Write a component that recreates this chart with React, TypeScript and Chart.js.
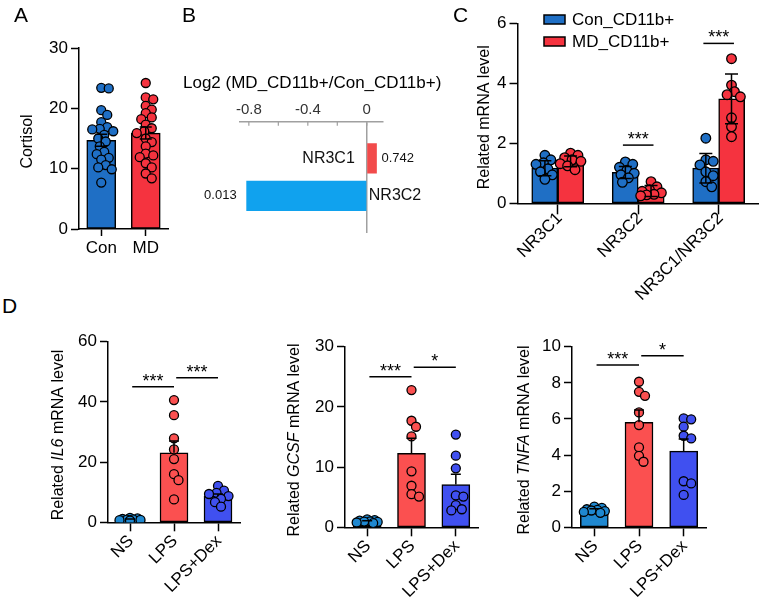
import React, { useEffect, useRef } from 'react';
import { Chart, registerables } from 'chart.js';

Chart.register(...registerables);

const FONT = "'Liberation Sans', Arial, Helvetica, sans-serif";
Chart.defaults.font.family = FONT;
Chart.defaults.color = '#000';

// ---------- Panel A: serum cortisol ----------
const cortisolGroups = ['Con', 'MD'];
const cortisolMean = [14.7, 15.9];
const cortisolSem = [1.0, 1.0];
const cortisolCon = [23.4, 23.3, 19.7, 18.9, 17.7, 16.9, 16.6, 16.5, 16.2, 15.6, 15.0, 14.5, 13.7, 12.8, 12.4, 11.8, 11.5, 10.6, 10.2, 9.9, 7.7];
const cortisolMd = [24.2, 21.8, 21.5, 20.4, 19.8, 19.2, 18.5, 18.2, 17.3, 16.7, 16.2, 15.9, 15.0, 14.4, 13.7, 12.5, 12.2, 11.9, 10.9, 10.2, 9.2, 8.4];

// ---------- Panel B: log2 fold change ----------
const log2Title = 'Log2 (MD_CD11b+/Con_CD11b+)';
const log2Genes = ['NR3C1', 'NR3C2'];
const log2Ratio = [0.066, -0.815];
const log2PValues = ['0.742', '0.013'];
const log2AxisTicks = [-0.8, -0.6, -0.4, -0.2, 0];
const log2AxisLabels = ['-0.8', '', '-0.4', '', '0'];

// ---------- Panel C: CD11b+ receptor mRNA ----------
const mrnaTargets = ['NR3C1', 'NR3C2', 'NR3C1/NR3C2'];
const conCd11bMean = [1.17, 1.03, 1.17];
const conCd11bSd = [0.25, 0.2, 0.49];
const conCd11bPoints = [
  [1.6, 1.45, 1.35, 1.3, 1.15, 1.05, 0.95, 0.8],
  [1.38, 1.3, 1.2, 1.1, 1.0, 0.95, 0.85, 0.7],
  [2.17, 1.45, 1.4, 1.28, 1.05, 0.92, 0.72, 0.55],
];
const mdCd11bMean = [1.4, 0.41, 3.48];
const mdCd11bSd = [0.18, 0.18, 0.83];
const mdCd11bPoints = [
  [1.67, 1.6, 1.52, 1.45, 1.4, 1.32, 1.25, 1.12],
  [0.72, 0.55, 0.45, 0.4, 0.35, 0.3, 0.28, 0.25],
  [4.82, 3.94, 3.72, 3.62, 3.55, 2.85, 2.55, 2.22],
];
const mrnaSigTargets = [1, 2];
const mrnaSigLevels = [1.94, 5.33];
const mrnaSigMarks = ['***', '***'];

// ---------- Panel D: cytokine mRNA after LPS / Dex ----------
const treatments = ['NS', 'LPS', 'LPS+Dex'];

const il6Mean = [1.0, 23.1, 8.6];
const il6Sem = [0.12, 3.9, 0.8];
const il6Points = [
  [1.5, 1.3, 1.1, 1.0, 0.9, 0.8, 0.7, 0.6],
  [40.6, 35.6, 27.9, 24.2, 21.0, 16.0, 14.0, 7.6],
  [12.1, 10.5, 9.8, 9.4, 8.7, 7.8, 6.7, 5.2],
];
const il6SigLevels = [45, 48];
const il6SigMarks = ['***', '***'];

const gcsfMean = [1.0, 12.3, 7.1];
const gcsfSem = [0.08, 2.5, 1.7];
const gcsfPoints = [
  [1.3, 1.2, 1.1, 1.0, 0.95, 0.9, 0.8, 0.7],
  [22.8, 17.7, 16.7, 15.1, 9.3, 6.9, 5.5, 5.1],
  [15.4, 11.9, 9.8, 5.3, 5.1, 3.7, 3.0, 2.8],
];
const gcsfSigLevels = [25.0, 26.6];
const gcsfSigMarks = ['***', '*'];

const tnfaMean = [0.98, 5.81, 4.22];
const tnfaSem = [0.05, 0.68, 0.67];
const tnfaPoints = [
  [1.15, 1.08, 1.0, 0.97, 0.93, 0.9, 0.85, 0.8],
  [8.06, 7.5, 7.28, 6.36, 5.66, 4.43, 3.96, 3.63],
  [6.03, 5.98, 5.57, 5.07, 4.92, 2.55, 2.43, 1.79],
];
const tnfaSigLevels = [8.98, 9.5];
const tnfaSigMarks = ['***', '*'];

const treatmentPairs = [[0, 1], [1, 2]];

// ---------- colours ----------
const CON_BLUE = '#1f6fc5';
const MD_RED = '#f5333f';
const FC_RED = '#f24b4b';
const FC_BLUE = '#10a2ee';
const NS_BLUE = '#1f88d0';
const LPS_RED = '#fb5050';
const DEX_BLUE = '#4050f0';

// Spread dots of one group sideways so they overlap only partly (beeswarm).
function swarm(values: number[], pxPerY: number, r: number, maxHalf: number): number[] {
  const order = values.map((_, i) => i).sort((a, b) => values[b] - values[a]);
  const placed: { x: number; y: number }[] = [];
  const out = new Array(values.length).fill(0);
  const minD = r * 1.5;
  for (const i of order) {
    const y = values[i] * pxPerY;
    let best = 0;
    let bestScore = -1;
    for (let k = 0; k <= 60; k++) {
      const dx = (k % 2 === 1 ? 1 : -1) * Math.ceil(k / 2) * 1.5;
      if (Math.abs(dx) > maxHalf) continue;
      let dmin = Infinity;
      for (const p of placed) dmin = Math.min(dmin, Math.hypot(p.x - dx, p.y - y));
      if (dmin >= minD) { best = dx; break; }
      if (dmin > bestScore) { bestScore = dmin; best = dx; }
    }
    placed.push({ x: best, y });
    out[i] = best;
  }
  return out;
}

function drawRotatedTitle(ctx: CanvasRenderingContext2D, segs: any[], x: number, y: number, size: number) {
  ctx.save();
  ctx.translate(x, y);
  ctx.rotate(-Math.PI / 2);
  ctx.fillStyle = '#000';
  ctx.textBaseline = 'middle';
  ctx.textAlign = 'left';
  const widths = segs.map((s) => {
    ctx.font = `${s.italic ? 'italic ' : ''}${size}px ${FONT}`;
    return ctx.measureText(s.text).width;
  });
  let cx = -widths.reduce((a, b) => a + b, 0) / 2;
  segs.forEach((s, i) => {
    ctx.font = `${s.italic ? 'italic ' : ''}${size}px ${FONT}`;
    ctx.fillText(s.text, cx, 0);
    cx += widths[i];
  });
  ctx.restore();
}

const zeroPad = (s: any) => {
  s.paddingLeft = 0;
  s.paddingRight = 0;
  s.paddingTop = 0;
  s.paddingBottom = 0;
};

function barDotConfig(p: any) {
  const { box, plot, labels, series, yMin, yMax, yStep, rotation, xTickLength, xLabelPad, xLabelShift, barThickness, dotRadius, capHalf, sig, title, legend } = p;
  const n = labels.length;
  const S = series.length;
  const pxX = (plot.r - plot.l) / n;
  const pxY = (plot.b - plot.t) / (yMax - yMin);
  const groupShift = (si: number) => ((si - (S - 1) / 2) * barThickness) / pxX;

  const datasets: any[] = [];
  series.forEach((s: any) => {
    datasets.push({
      type: 'bar',
      label: s.label,
      data: s.means.map((m: number, i: number) => ({ x: i, y: m })),
      backgroundColor: s.colors,
      borderColor: '#000',
      borderWidth: 1.5,
      borderSkipped: false,
      barThickness,
      order: 3,
    });
  });
  series.forEach((s: any, si: number) => {
    s.points.forEach((vals: number[], i: number) => {
      const dx = swarm(vals, pxY, dotRadius, barThickness / 2 - dotRadius * 0.5);
      datasets.push({
        type: 'scatter',
        label: `${s.label} ${labels[i]}`,
        data: vals.map((v, k) => ({ x: i + groupShift(si) + dx[k] / pxX, y: v })),
        backgroundColor: s.colors[i],
        borderColor: '#000',
        borderWidth: 1.3,
        pointRadius: dotRadius,
        order: 2,
      });
    });
  });

  const overlay = {
    id: 'barDotOverlay',
    afterDatasetsDraw(chart: any) {
      const { ctx } = chart;
      const x = chart.scales.x;
      const y = chart.scales.y;
      ctx.save();
      ctx.strokeStyle = '#000';
      ctx.lineWidth = 1.5;
      series.forEach((s: any, si: number) => {
        s.means.forEach((m: number, i: number) => {
          const e = s.errs[i];
          const xc = x.getPixelForValue(i + groupShift(si));
          const yTop = y.getPixelForValue(m + e);
          const yBot = s.errBoth ? y.getPixelForValue(m - e) : y.getPixelForValue(m);
          ctx.beginPath();
          ctx.moveTo(xc, yBot);
          ctx.lineTo(xc, yTop);
          ctx.moveTo(xc - capHalf, yTop);
          ctx.lineTo(xc + capHalf, yTop);
          if (s.errBoth) {
            ctx.moveTo(xc - capHalf, yBot);
            ctx.lineTo(xc + capHalf, yBot);
          }
          ctx.stroke();
        });
      });
      sig.forEach((g: any) => {
        const x1 = x.getPixelForValue(g.from);
        const x2 = x.getPixelForValue(g.to);
        const yy = y.getPixelForValue(g.level);
        ctx.beginPath();
        ctx.moveTo(x1, yy);
        ctx.lineTo(x2, yy);
        ctx.stroke();
        ctx.font = `18px ${FONT}`;
        ctx.fillStyle = '#000';
        ctx.textAlign = 'center';
        ctx.textBaseline = 'alphabetic';
        ctx.fillText(g.mark, (x1 + x2) / 2, yy);
      });
      ctx.restore();
    },
    afterDraw(chart: any) {
      const { ctx, chartArea } = chart;
      drawRotatedTitle(ctx, title.segs, title.x - box.left, (chartArea.top + chartArea.bottom) / 2 + title.dy, 16);
      if (legend) {
        ctx.save();
        series.forEach((s: any, si: number) => {
          const lx = legend.x - box.left;
          const ly = legend.y - box.top + si * legend.gap;
          ctx.fillStyle = s.colors[0];
          ctx.fillRect(lx, ly, 21, 9);
          ctx.strokeStyle = '#000';
          ctx.lineWidth = 1.5;
          ctx.strokeRect(lx, ly, 21, 9);
          ctx.fillStyle = '#000';
          ctx.font = `17px ${FONT}`;
          ctx.textAlign = 'left';
          ctx.textBaseline = 'middle';
          ctx.fillText(s.label, lx + 28, ly + 5);
        });
        ctx.restore();
      }
    },
  };

  return {
    type: 'bar',
    data: { datasets },
    options: {
      responsive: false,
      animation: false,
      events: [],
      layout: { padding: { left: 0, top: plot.t - box.top, right: box.left + box.w - plot.r, bottom: 0 } },
      plugins: { legend: { display: false }, tooltip: { enabled: false }, title: { display: false } },
      scales: {
        x: {
          type: 'linear',
          offset: false,
          min: -0.5,
          max: n - 0.5,
          afterBuildTicks: (s: any) => { s.ticks = labels.map((_: string, i: number) => ({ value: i })); },
          afterFit: (s: any) => { s.height = box.top + box.h - plot.b; zeroPad(s); },
          ticks: {
            autoSkip: false,
            minRotation: rotation,
            maxRotation: rotation,
            padding: xLabelPad,
            labelOffset: xLabelShift,
            color: '#000',
            font: { size: 17 },
            callback: (v: number) => labels[v] ?? '',
          },
          grid: { display: true, offset: false, drawOnChartArea: false, drawTicks: true, tickLength: xTickLength, tickColor: '#000', tickWidth: 1.5 },
          border: { display: true, color: '#000', width: 1.5 },
        },
        y: {
          type: 'linear',
          offset: false,
          min: yMin,
          max: yMax,
          afterFit: (s: any) => { s.width = plot.l - box.left; zeroPad(s); },
          ticks: { stepSize: yStep, padding: 3, color: '#000', font: { size: 17 } },
          grid: { display: true, offset: false, drawOnChartArea: false, drawTicks: true, tickLength: 8, tickColor: '#000', tickWidth: 1.5 },
          border: { display: true, color: '#000', width: 1.5 },
        },
      },
    },
    plugins: [overlay],
  };
}

function log2Config(box: any) {
  const plot = { l: 240, t: 121.7, r: 383, b: 233 };
  const axisH = 27.5;
  const titleAt = { x: 183, y: 83 };

  const labelsPlugin = {
    id: 'log2Labels',
    afterDatasetsDraw(chart: any) {
      const { ctx, chartArea } = chart;
      const x = chart.scales.x;
      const y = chart.scales.y;
      const x0 = x.getPixelForValue(0);
      ctx.save();
      ctx.fillStyle = '#111';
      ctx.textBaseline = 'middle';
      log2Genes.forEach((g, i) => {
        const v = log2Ratio[i];
        const yc = y.getPixelForValue(i);
        const xe = x.getPixelForValue(v);
        ctx.font = `16px ${FONT}`;
        if (v >= 0) {
          ctx.textAlign = 'right';
          ctx.fillText(g, x0 - 12, yc);
          ctx.font = `13px ${FONT}`;
          ctx.textAlign = 'left';
          ctx.fillText(log2PValues[i], xe + 5, yc);
        } else {
          ctx.textAlign = 'left';
          ctx.fillText(g, x0 + 2, yc);
          ctx.font = `13px ${FONT}`;
          ctx.textAlign = 'right';
          ctx.fillText(log2PValues[i], xe - 10, yc);
        }
      });
      ctx.strokeStyle = '#a0a0a0';
      ctx.lineWidth = 1.2;
      x.ticks.forEach((t: any) => {
        const px = x.getPixelForValue(t.value);
        ctx.beginPath();
        ctx.moveTo(px, chartArea.top);
        ctx.lineTo(px, chartArea.top + 4);
        ctx.stroke();
      });
      // chart heading
      ctx.fillStyle = '#000';
      ctx.font = `17px ${FONT}`;
      ctx.textAlign = 'left';
      ctx.textBaseline = 'middle';
      ctx.fillText(log2Title, titleAt.x - box.left, titleAt.y - box.top);
      ctx.restore();
    },
  };

  return {
    type: 'bar',
    data: {
      datasets: [{
        type: 'bar',
        label: log2Title,
        data: log2Genes.map((_, i) => ({ x: log2Ratio[i], y: i })),
        backgroundColor: log2Ratio.map((v) => (v >= 0 ? FC_RED : FC_BLUE)),
        borderWidth: 0,
        barThickness: 29.5,
      }],
    },
    options: {
      indexAxis: 'y',
      responsive: false,
      animation: false,
      events: [],
      layout: {
        padding: {
          left: 0,
          top: plot.t - box.top - axisH,
          right: box.left + box.w - plot.r,
          bottom: box.top + box.h - plot.b,
        },
      },
      plugins: { legend: { display: false }, tooltip: { enabled: false }, title: { display: false } },
      scales: {
        x: {
          type: 'linear',
          position: 'top',
          offset: false,
          min: -0.86,
          max: 0.11,
          afterBuildTicks: (s: any) => { s.ticks = log2AxisTicks.map((v) => ({ value: v })); },
          afterFit: (s: any) => { s.height = axisH; zeroPad(s); },
          ticks: {
            autoSkip: false,
            padding: 3,
            color: '#333',
            font: { size: 15 },
            callback: (v: number) => log2AxisLabels[log2AxisTicks.indexOf(v)] ?? '',
          },
          grid: {
            display: true,
            offset: false,
            drawOnChartArea: true,
            drawTicks: false,
            color: (c: any) => (c.tick && c.tick.value === 0 ? '#a0a0a0' : 'rgba(0,0,0,0)'),
            lineWidth: 1.5,
          },
          border: { display: true, color: '#a0a0a0', width: 1.5 },
        },
        y: {
          type: 'linear',
          offset: false,
          reverse: true,
          min: -0.98,
          max: 1.99,
          afterFit: (s: any) => { s.width = plot.l - box.left; zeroPad(s); },
          ticks: { display: false },
          grid: { display: false, offset: false },
          border: { display: false },
        },
      },
    },
    plugins: [labelsPlugin],
  };
}

const pairSig = (levels: number[], marks: string[]) =>
  treatmentPairs.map(([a, b], k) => ({ from: a + 0.05, to: b, level: levels[k], mark: marks[k] }));

const boxes = {
  a: { left: 0, top: 0, w: 185, h: 270 },
  b: { left: 183, top: 60, w: 270, h: 185 },
  c: { left: 440, top: 0, w: 325, h: 300 },
  il6: { left: 0, top: 330, w: 250, h: 273 },
  gcsf: { left: 250, top: 330, w: 240, h: 273 },
  tnfa: { left: 490, top: 330, w: 275, h: 273 },
};

const treatmentColors = [NS_BLUE, LPS_RED, DEX_BLUE];

const builders: Record<string, () => any> = {
  a: () => barDotConfig({
    box: boxes.a,
    plot: { l: 79, t: 48, r: 168, b: 229 },
    labels: cortisolGroups,
    series: [{ label: 'Cortisol', colors: [CON_BLUE, MD_RED], means: cortisolMean, errs: cortisolSem, errBoth: true, points: [cortisolCon, cortisolMd] }],
    yMin: 0, yMax: 30, yStep: 10,
    rotation: 0, xTickLength: 7, xLabelPad: 2, xLabelShift: 0,
    barThickness: 29, dotRadius: 4.5, capHalf: 6,
    sig: [],
    title: { segs: [{ text: 'Cortisol' }], x: 28, dy: 3 },
  }),
  b: () => log2Config(boxes.b),
  c: () => barDotConfig({
    box: boxes.c,
    plot: { l: 517.5, t: 23.3, r: 762, b: 203.3 },
    labels: mrnaTargets,
    series: [
      { label: 'Con_CD11b+', colors: mrnaTargets.map(() => CON_BLUE), means: conCd11bMean, errs: conCd11bSd, errBoth: true, points: conCd11bPoints },
      { label: 'MD_CD11b+', colors: mrnaTargets.map(() => MD_RED), means: mdCd11bMean, errs: mdCd11bSd, errBoth: true, points: mdCd11bPoints },
    ],
    yMin: 0, yMax: 6, yStep: 2,
    rotation: 45, xTickLength: 11, xLabelPad: -6, xLabelShift: 2,
    barThickness: 26, dotRadius: 4.8, capHalf: 6.5,
    sig: mrnaSigTargets.map((t, k) => ({ from: t - 0.19, to: t + 0.19, level: mrnaSigLevels[k], mark: mrnaSigMarks[k] })),
    title: { segs: [{ text: 'Related mRNA level' }], x: 485, dy: 4 },
    legend: { x: 544, y: 15, gap: 22 },
  }),
  il6: () => barDotConfig({
    box: boxes.il6,
    plot: { l: 108, t: 341.7, r: 240, b: 522.3 },
    labels: treatments,
    series: [{ label: 'IL6', colors: treatmentColors, means: il6Mean, errs: il6Sem, errBoth: false, points: il6Points }],
    yMin: 0, yMax: 60, yStep: 20,
    rotation: 45, xTickLength: 9, xLabelPad: 0, xLabelShift: 1,
    barThickness: 28, dotRadius: 4.5, capHalf: 5,
    sig: pairSig(il6SigLevels, il6SigMarks),
    title: { segs: [{ text: 'Related ' }, { text: 'IL6', italic: true }, { text: ' mRNA level' }], x: 58.3, dy: 3 },
  }),
  gcsf: () => barDotConfig({
    box: boxes.gcsf,
    plot: { l: 345, t: 346.7, r: 478, b: 527.3 },
    labels: treatments,
    series: [{ label: 'GCSF', colors: treatmentColors, means: gcsfMean, errs: gcsfSem, errBoth: false, points: gcsfPoints }],
    yMin: 0, yMax: 30, yStep: 10,
    rotation: 45, xTickLength: 9, xLabelPad: 0, xLabelShift: 1,
    barThickness: 28, dotRadius: 4.5, capHalf: 5,
    sig: pairSig(gcsfSigLevels, gcsfSigMarks),
    title: { segs: [{ text: 'Related ' }, { text: 'GCSF', italic: true }, { text: ' mRNA level' }], x: 294.3, dy: 3 },
  }),
  tnfa: () => barDotConfig({
    box: boxes.tnfa,
    plot: { l: 572, t: 346.7, r: 706, b: 527.3 },
    labels: treatments,
    series: [{ label: 'TNFA', colors: treatmentColors, means: tnfaMean, errs: tnfaSem, errBoth: false, points: tnfaPoints }],
    yMin: 0, yMax: 10, yStep: 2,
    rotation: 45, xTickLength: 9, xLabelPad: 0, xLabelShift: 1,
    barThickness: 28, dotRadius: 4.5, capHalf: 5,
    sig: pairSig(tnfaSigLevels, tnfaSigMarks),
    title: { segs: [{ text: 'Related ' }, { text: 'TNFA', italic: true }, { text: ' mRNA level' }], x: 525, dy: 3 },
  }),
};

function ChartCanvas({ id }: { id: string }) {
  const ref = useRef<HTMLCanvasElement>(null);
  const box = (boxes as any)[id];
  useEffect(() => {
    const chart = new Chart(ref.current as HTMLCanvasElement, builders[id]() as any);
    return () => chart.destroy();
  }, [id]);
  return (
    <canvas
      ref={ref}
      width={box.w}
      height={box.h}
      style={{ position: 'absolute', left: box.left, top: box.top, width: box.w, height: box.h }}
    />
  );
}

const panelLetters = [
  { text: 'A', left: 14, top: 4 },
  { text: 'B', left: 182, top: 4 },
  { text: 'C', left: 453, top: 4 },
  { text: 'D', left: 2, top: 295 },
];

export default function App() {
  return (
    <div style={{ position: 'absolute', left: 0, top: 0, width: 765, height: 603, background: '#fff', overflow: 'hidden' }}>
      {Object.keys(boxes).map((id) => (
        <ChartCanvas key={id} id={id} />
      ))}
      {panelLetters.map((p) => (
        <div
          key={p.text}
          style={{ position: 'absolute', left: p.left, top: p.top, font: `21px ${FONT}`, lineHeight: '21px', color: '#000' }}
        >
          {p.text}
        </div>
      ))}
    </div>
  );
}
